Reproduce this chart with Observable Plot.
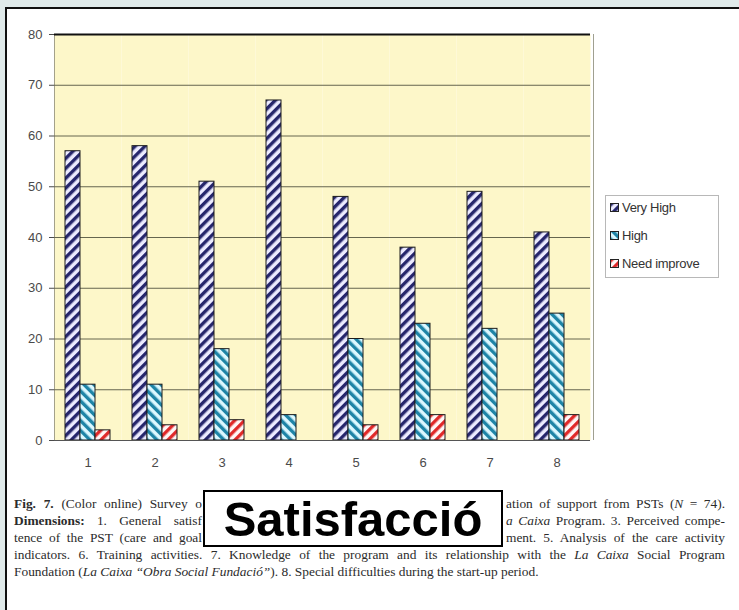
<!DOCTYPE html>
<html>
<head>
<meta charset="utf-8">
<script src="https://cdn.jsdelivr.net/npm/d3@7"></script>
<script src="https://cdn.jsdelivr.net/npm/@observablehq/plot@0.6"></script>
<style>
  html, body { margin: 0; padding: 0; }
  body { width: 739px; height: 610px; background: #e0eaea; position: relative; overflow: hidden; font-family: "Liberation Sans", Arial, sans-serif; }
  #sheet { position: absolute; left: 5px; top: 7px; right: 0; bottom: 0; background: #fff; border-top: 2px solid #111; border-left: 2px solid #111; }
  #chart { position: absolute; left: 0; top: 0; }
  #legend { position: absolute; left: 605px; top: 195px; width: 114px; height: 83px; border: 1px solid #b8b8b8; background: #fff; box-sizing: border-box; }
  #legend .item { position: absolute; left: 4px; font-size: 13px; color: #333; display: flex; align-items: center; white-space: nowrap; letter-spacing: -0.3px; }
  #legend svg { margin-right: 3px; }
  #caption { position: absolute; left: 14px; top: 495px; width: 711px; font-family: "Liberation Serif", "Times New Roman", serif; font-size: 13.4px; line-height: 17px; color: #2b2b2b; }
  #caption .line { position: relative; white-space: nowrap; height: 17px; }
  #caption .line.full { text-align: justify; text-align-last: justify; overflow: hidden; }
  #caption .line.last { text-align: left; text-align-last: left; }
  #caption .left { position: absolute; left: 0; top: 0; }
  #caption .right { position: absolute; right: 0; top: 0; }
  #badge { position: absolute; left: 203px; top: 490px; width: 300px; height: 57px; box-sizing: border-box; border: 2px solid #000; background: #fff; display: flex; align-items: center; justify-content: center; font-family: "Liberation Sans", Arial, sans-serif; font-weight: bold; font-size: 49px; color: #000; }
</style>
</head>
<body>
<div id="sheet"></div>
<div id="chart"></div>
<div id="legend"></div>
<div id="caption"></div>
<div id="badge">Satisfacció</div>
<script>
// Survey dimensions (1–8) and the three rating levels
const dims = ["1", "2", "3", "4", "5", "6", "7", "8"];
const series = ["Very High", "High", "Need improve"];

// Number of respondents per rating level, one value per dimension
const veryHigh = [57, 58, 51, 67, 48, 38, 49, 41];
const high = [11, 11, 18, 5, 20, 23, 22, 25];
const needImprove = [2, 3, 4, 0, 3, 5, 0, 5];

const yTicks = [0, 10, 20, 30, 40, 50, 60, 70, 80];

// Hatch pattern per rating level
const patternIds = ["hatch-vh", "hatch-h", "hatch-ni"];
const patternUrls = patternIds.map(id => `url(#${id})`);

const rows = dims.flatMap((d, i) =>
  series.map((s, j) => ({dim: d, series: s, value: [veryHigh, high, needImprove][j][i]}))
);

const W = 739, H = 480, mL = 50, mR = 146, mT = 34, mB = 40;

const svg = Plot.plot({
  width: W,
  height: H,
  marginLeft: mL,
  marginRight: mR,
  marginTop: mT,
  marginBottom: mB,
  style: {background: "transparent", fontSize: "13px", fontFamily: "'Liberation Sans', Arial, sans-serif", color: "#4a4a4a", overflow: "visible"},
  facet: {data: rows, x: "dim"},
  fx: {domain: dims, padding: 0, label: null, tickSize: 0, tickPadding: 17},
  x: {domain: series, paddingInner: 0, paddingOuter: 0.67, axis: null},
  y: {domain: [0, 80], ticks: yTicks, tickSize: 5, tickPadding: 7, label: null, line: true},
  color: {domain: series, range: patternUrls},
  marks: [
    Plot.frame({fill: "#fdf7c9", stroke: "none"}),
    Plot.ruleY(yTicks.filter(t => t > 0 && t < 80), {stroke: "#66664f", strokeWidth: 1}),
    Plot.ruleY([80], {stroke: "#111", strokeWidth: 2}),
    Plot.barY(rows, {x: "series", y: "value", fill: "series", stroke: "#1c1c1c", strokeWidth: 1, filter: d => d.value > 0}),
    Plot.ruleY([0], {stroke: "#555", strokeWidth: 1})
  ]
});

// Pattern definitions: diagonal stripes on a pale ground
const defs = d3.select(svg).insert("defs", ":first-child");
const hatches = [
  {id: patternIds[0], ground: "#ecebff", stripe: "#26266c", angle: 45},
  {id: patternIds[1], ground: "#dcf8ff", stripe: "#1e84a6", angle: -45},
  {id: patternIds[2], ground: "#fff6f6", stripe: "#e02a2a", angle: 45}
];
for (const h of hatches) {
  const p = defs.append("pattern")
    .attr("id", h.id)
    .attr("patternUnits", "userSpaceOnUse")
    .attr("width", 7)
    .attr("height", 7)
    .attr("patternTransform", `rotate(${h.angle})`);
  p.append("rect").attr("width", 7).attr("height", 7).attr("fill", h.ground);
  p.append("rect").attr("x", 0).attr("width", 3.4).attr("height", 7).attr("fill", h.stripe);
}

// Thin border on the right edge of the plotting area
d3.select(svg).append("line")
  .attr("x1", W - mR + 0.5).attr("x2", W - mR + 0.5)
  .attr("y1", mT).attr("y2", H - mB)
  .attr("stroke", "#a0a090");

document.getElementById("chart").appendChild(svg);

// Legend
const legend = d3.select("#legend");
const legendTops = [4, 32, 60];
series.forEach((s, j) => {
  const item = legend.append("div").attr("class", "item").style("top", legendTops[j] + "px");
  const sw = item.append("svg").attr("width", 9).attr("height", 9);
  sw.append("rect").attr("x", 0.5).attr("y", 0.5).attr("width", 8).attr("height", 8)
    .attr("fill", patternUrls[j]).attr("stroke", "#222");
  item.append("span").text(s);
});

// Figure caption; the first three lines are split around the title box
const captionLines = [
  ["<b>Fig. 7.</b> (Color online) Survey o", "ation of support from PSTs (<i>N</i> = 74)."],
  ["<b>Dimensions:</b> 1. General satisf", "<i>a Caixa</i> Program. 3. Perceived compe-"],
  ["tence of the PST (care and goal", "ment. 5. Analysis of the care activity"],
  "indicators. 6. Training activities. 7. Knowledge of the program and its relationship with the <i>La Caixa</i> Social Program",
  "Foundation (<i>La Caixa \u201cObra Social Fundaci\u00f3\u201d</i>). 8. Special difficulties during the start-up period."
];
// Widths available to the split fragments on either side of the title box
const leftSpan = 188, rightSpan = 219;
const cap = d3.select("#caption");
captionLines.forEach((t, i) => {
  if (Array.isArray(t)) {
    const line = cap.append("div").attr("class", "line");
    const parts = [
      line.append("span").attr("class", "left").html(t[0]),
      line.append("span").attr("class", "right").html(t[1])
    ];
    // Stretch word spacing so each fragment fills its side, as justified text would
    parts.forEach((part, k) => {
      const node = part.node();
      const w = node.getBoundingClientRect().width;
      const gaps = (node.textContent.match(/ /g) || []).length;
      const target = k === 0 ? leftSpan : rightSpan;
      if (gaps > 0 && w < target) part.style("word-spacing", ((target - w) / gaps) + "px");
    });
  } else {
    cap.append("div").attr("class", "line full" + (i === captionLines.length - 1 ? " last" : "")).html(t);
  }
});
</script>
</body>
</html>
